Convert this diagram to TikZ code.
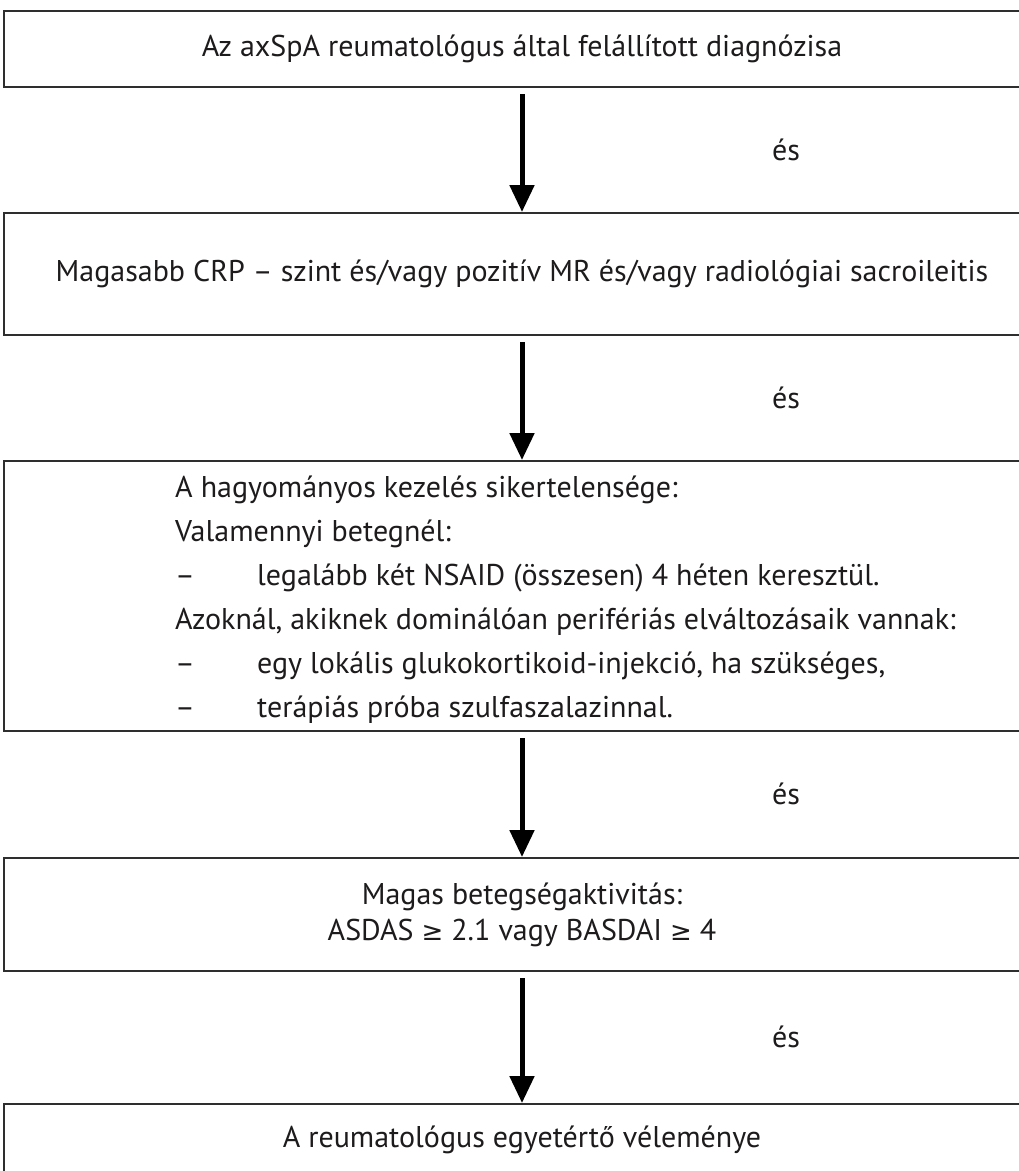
\documentclass[tikz,border=0pt]{standalone}
\usepackage{fontspec}
\setmainfont{PT Sans}
\newfontfamily\symfnt{DejaVu Sans}
\newcommand{\gtreq}{{\symfnt\fontsize{26}{30}\selectfont ≥}}
\usetikzlibrary{arrows.meta}
\definecolor{boxgray}{HTML}{2E2E2E}
\definecolor{textblack}{HTML}{1E1B1C}
\begin{document}
\begin{tikzpicture}[x=1pt,y=-1pt,
  box/.style={draw=boxgray, line width=2pt, minimum width=1036pt, inner sep=0pt,
    font=\fontsize{30}{36}\selectfont, text=textblack},
  txt/.style={font=\fontsize{30}{36}\selectfont, text=textblack, inner sep=0pt},
  arr/.style={draw=black, line width=5pt, shorten <=6pt, -{Triangle[length=27pt,width=24pt]}},
  es/.style={font=\fontsize{30}{36}\selectfont, text=textblack, inner sep=0pt}]
\useasboundingbox (0,0) rectangle (1019,1171);
\clip (0,0) rectangle (1019,1171);
\fill[white] (0,0) rectangle (1019,1171);
% boxes
\node[box, minimum height=76pt] (b1) at (522,49) {Az axSpA reumatológus által felállított diagnózisa};
\node[box, minimum height=122pt] (b2) at (522,274) {Magasabb CRP – szint és/vagy pozitív MR és/vagy radiológiai sacroileitis};
\node[box, minimum height=270pt] (b3) at (522,596) {};
\node[txt, anchor=west, align=left, font=\fontsize{30}{44}\selectfont] (t3) at (175,600) {A hagyományos kezelés sikertelensége:\\
Valamennyi betegnél:\\
\makebox[82pt][l]{–}legalább két NSAID (összesen) 4 héten keresztül.\\
Azoknál, akiknek dominálóan perifériás elváltozásaik vannak:\\
\makebox[82pt][l]{–}egy lokális glukokortikoid-injekció, ha szükséges,\\
\makebox[82pt][l]{–}terápiás próba szulfaszalazinnal.};
\node[box, minimum height=113pt, align=center, font=\fontsize{30}{36}\selectfont] (b4) at (522,914.5) {Magas betegségaktivitás:\\ ASDAS \gtreq{} 2.1 vagy BASDAI \gtreq{} 4};
\node[box, minimum height=100pt, anchor=north] (b5) at (522,1103) {};
\node[txt] (t5) at (522,1140) {A reumatológus egyetértő véleménye};
% arrows
\draw[arr] (b1.south) -- (b2.north);
\draw[arr] (b2.south) -- (b3.north);
\draw[arr] (b3.south) -- (b4.north);
\draw[arr] (b4.south) -- (b5.north);
% labels
\node[es] (e1) at (786,150) {és};
\node[es] (e2) at (786,398) {és};
\node[es] (e3) at (786,794) {és};
\node[es] (e4) at (786,1037) {és};
\end{tikzpicture}
\end{document}
